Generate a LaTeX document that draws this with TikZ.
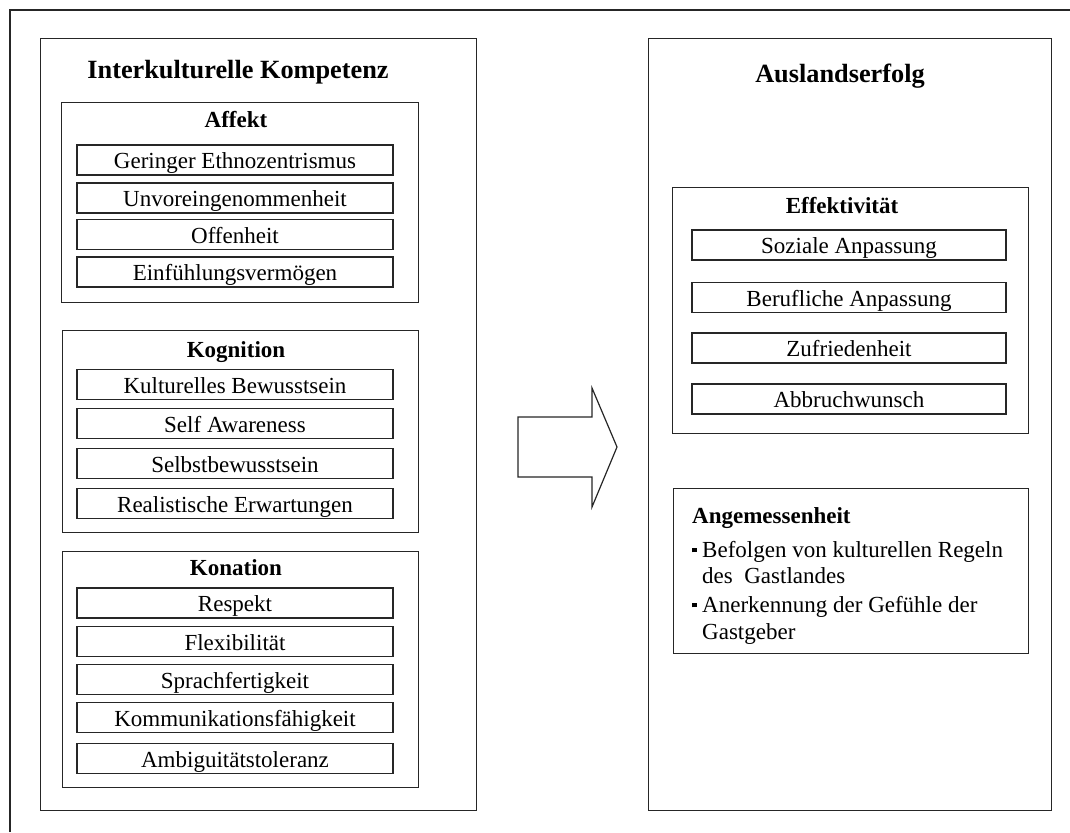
\documentclass[tikz,border=0pt]{standalone}
\usepackage{fontspec}
\setmainfont{Liberation Serif}
\newcommand{\titlefont}{\fontsize{26.3}{30}\selectfont\bfseries}
\newcommand{\subfont}{\fontsize{23}{27}\selectfont\bfseries}
\newcommand{\itemfont}{\fontsize{23}{27}\selectfont}
\tikzset{
  frameline/.style={line width=1.6pt, draw=black!85},
  panel/.style={draw=black!85, line width=1.4pt, anchor=north west, inner sep=0pt},
  group/.style={draw=black!85, line width=1.3pt, anchor=north west, inner sep=0pt},
  item/.style={draw=black!85, line width=1.3pt, inner sep=0pt, font=\itemfont,
    minimum height=30pt, text height=18pt, text depth=1pt},
  litem/.style={item, minimum width=316pt},
  ritem/.style={item, minimum width=314pt},
  ttl/.style={anchor=base, font=\titlefont, inner sep=0pt},
  sub/.style={anchor=base, font=\subfont, inner sep=0pt},
  txt/.style={anchor=base west, font=\itemfont, inner sep=0pt},
  blockarrow/.style={draw=black!85, line width=1.2pt, line join=miter, fill=white},
}
\newcommand{\sqbullet}{\raisebox{0.2em}{\rule{4.5pt}{4.5pt}}}
\begin{document}
\begin{tikzpicture}[x=1pt, y=-1pt]
\useasboundingbox (0,0) rectangle (1070,832);
% outer frame (cropped)
\coordinate (fA) at (10,832);
\coordinate (fB) at (10,10);
\coordinate (fC) at (1070,10);
\draw[frameline] (fA) -- (fB) -- (fC);

% ---------- left panel ----------
\node[panel, minimum width=436pt, minimum height=772pt] (L) at (40,38) {};
\node[ttl] (Lt) at (238,79) {Interkulturelle Kompetenz};

\node[group, minimum width=357pt, minimum height=200pt] (G1) at (61,102) {};
\node[sub] (G1t) at (236,128) {Affekt};
\node[litem] (a1) at (235,160) {Geringer Ethnozentrismus};
\node[litem] (a2) at (235,198) {Unvoreingenommenheit};
\node[litem] (a3) at (235,234.5) {Offenheit};
\node[litem] (a4) at (235,272) {Einfühlungsvermögen};

\node[group, minimum width=356pt, minimum height=202pt] (G2) at (62,330) {};
\node[sub] (G2t) at (236,357) {Kognition};
\node[litem] (b1) at (235,384.5) {Kulturelles Bewusstsein};
\node[litem] (b2) at (235,423.5) {Self Awareness};
\node[litem] (b3) at (235,463.5) {Selbstbewusstsein};
\node[litem] (b4) at (235,503.5) {Realistische Erwartungen};

\node[group, minimum width=356pt, minimum height=236pt] (G3) at (62,551) {};
\node[sub] (G3t) at (236,575) {Konation};
\node[litem] (c1) at (235,603) {Respekt};
\node[litem] (c2) at (235,641.5) {Flexibilität};
\node[litem] (c3) at (235,679.5) {Sprachfertigkeit};
\node[litem] (c4) at (235,717.5) {Kommunikationsfähigkeit};
\node[litem] (c5) at (235,758.5) {Ambiguitätstoleranz};

% ---------- arrow ----------
\draw[blockarrow] (518,417) -- (592,417) -- (592,388) -- (617,447) -- (592,507) -- (592,477) -- (518,477) -- cycle;

% ---------- right panel ----------
\node[panel, minimum width=403pt, minimum height=772pt] (R) at (648,38) {};
\node[ttl] (Rt) at (840,83) {Auslandserfolg};

\node[group, minimum width=356pt, minimum height=246pt] (H1) at (672,187) {};
\node[sub] (H1t) at (842,213) {Effektivität};
\node[ritem] (d1) at (849,245) {Soziale Anpassung};
\node[ritem] (d2) at (849,297.5) {Berufliche Anpassung};
\node[ritem] (d3) at (849,348) {Zufriedenheit};
\node[ritem] (d4) at (849,399) {Abbruchwunsch};

\node[group, minimum width=355pt, minimum height=165pt] (H2) at (673,488) {};
\node[txt, font=\subfont] (H2t) at (692,523) {Angemessenheit};
\node[txt] (e1b) at (692,557) {\sqbullet};
\node[txt] (e1) at (702,557) {Befolgen von kulturellen Regeln};
\node[txt] (e1c) at (702,583) {des\ \ Gastlandes};
\node[txt] (e2b) at (692,612) {\sqbullet};
\node[txt] (e2) at (702,612) {Anerkennung der Gefühle der};
\node[txt] (e2c) at (702,639) {Gastgeber};
\end{tikzpicture}
\end{document}
